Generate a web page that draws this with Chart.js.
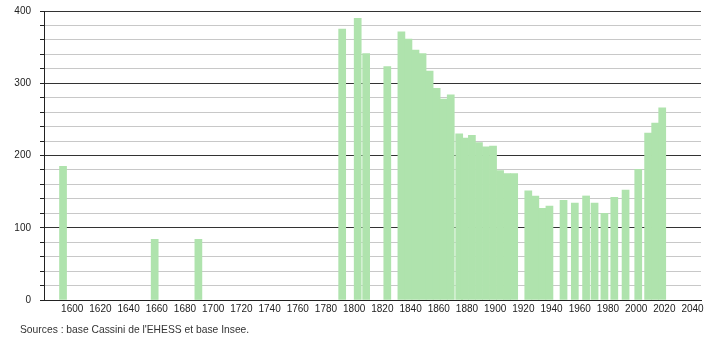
<!DOCTYPE html>
<html>
<head>
<meta charset="utf-8">
<script src="https://cdn.jsdelivr.net/npm/chart.js@4/dist/chart.umd.min.js"></script>
<style>
  body { margin: 0; background: #fff; }
  canvas { display: block; }
</style>
</head>
<body>
<canvas id="popChart" width="710" height="340"></canvas>
<script>
// census years and population
const years = [1591, 1656, 1687, 1789, 1800, 1806, 1821, 1831, 1836, 1841, 1846, 1851, 1856, 1861, 1866,
  1872, 1876, 1881, 1886, 1891, 1896, 1901, 1906, 1911, 1921, 1926, 1931, 1936, 1946, 1954,
  1962, 1968, 1975, 1982, 1990, 1999, 2006, 2011, 2016];
const population = [185, 84, 84, 375, 390, 341, 323, 371, 361, 346, 341, 317, 293, 278, 284,
  230, 224, 228, 218, 212, 213, 179, 175, 175, 151, 144, 127, 130, 138, 134,
  144, 134, 120, 142, 152, 181, 231, 245, 266];
const yLabels = [0, 100, 200, 300, 400];
const source = "Sources : base Cassini de l'EHESS et base Insee.";

const barSpan = 5; // each bar covers 5 years starting at the census year
const font = { family: '"Liberation Sans", Arial, sans-serif', size: 10 };

// footer text under the axis
const sourcePlugin = {
  id: 'source',
  afterDraw(chart) {
    const ctx = chart.ctx;
    ctx.save();
    ctx.font = '10.3px "Liberation Sans", Arial, sans-serif';
    ctx.fillStyle = '#333';
    ctx.textBaseline = 'middle';
    ctx.fillText(source, 20, 330);
    ctx.restore();
  }
};

const ctx = document.getElementById('popChart').getContext('2d');
const chart = new Chart(ctx, {
  type: 'bar',
  data: {
    datasets: [{
      data: years.map((yr, i) => ({ x: yr + barSpan / 2, y: population[i] })),
      backgroundColor: '#afe3ad',
      borderWidth: 0,
      barThickness: 7
    }]
  },
  options: {
    responsive: false,
    animation: false,
    layout: { padding: { left: 0, right: 9, top: 11, bottom: 0 } },
    plugins: {
      legend: { display: false },
      tooltip: { enabled: false }
    },
    scales: {
      x: {
        type: 'linear',
        min: 1580,
        max: 2046,
        offset: false,
        afterFit: s => { s.height = 40; },
        grid: { display: false, drawTicks: false, offset: false },
        border: { display: true, color: '#222' },
        ticks: {
          stepSize: 20,
          includeBounds: false,
          autoSkip: false,
          maxRotation: 0,
          padding: 3,
          color: '#222',
          font: font,
          callback: v => (v >= 1600 && v <= 2040 ? String(v) : '')
        }
      },
      y: {
        min: 0,
        max: 400,
        afterFit: s => { s.width = 44; s.paddingTop = 0; s.paddingBottom = 0; },
        border: { display: true, color: '#222' },
        grid: {
          color: c => (c.tick && c.tick.value % 100 === 0 ? '#333' : '#c8c8c8'),
          tickColor: '#222',
          tickLength: 4
        },
        ticks: {
          stepSize: 20,
          autoSkip: false,
          padding: 9,
          color: '#222',
          font: font,
          callback: v => (yLabels.includes(v) ? String(v) : '')
        }
      }
    }
  },
  plugins: [sourcePlugin]
});

// make each bar exactly barSpan years wide on the x scale
const sx = chart.scales.x;
chart.data.datasets[0].barThickness = sx.getPixelForValue(1580 + barSpan) - sx.getPixelForValue(1580);
chart.update('none');
</script>
</body>
</html>
